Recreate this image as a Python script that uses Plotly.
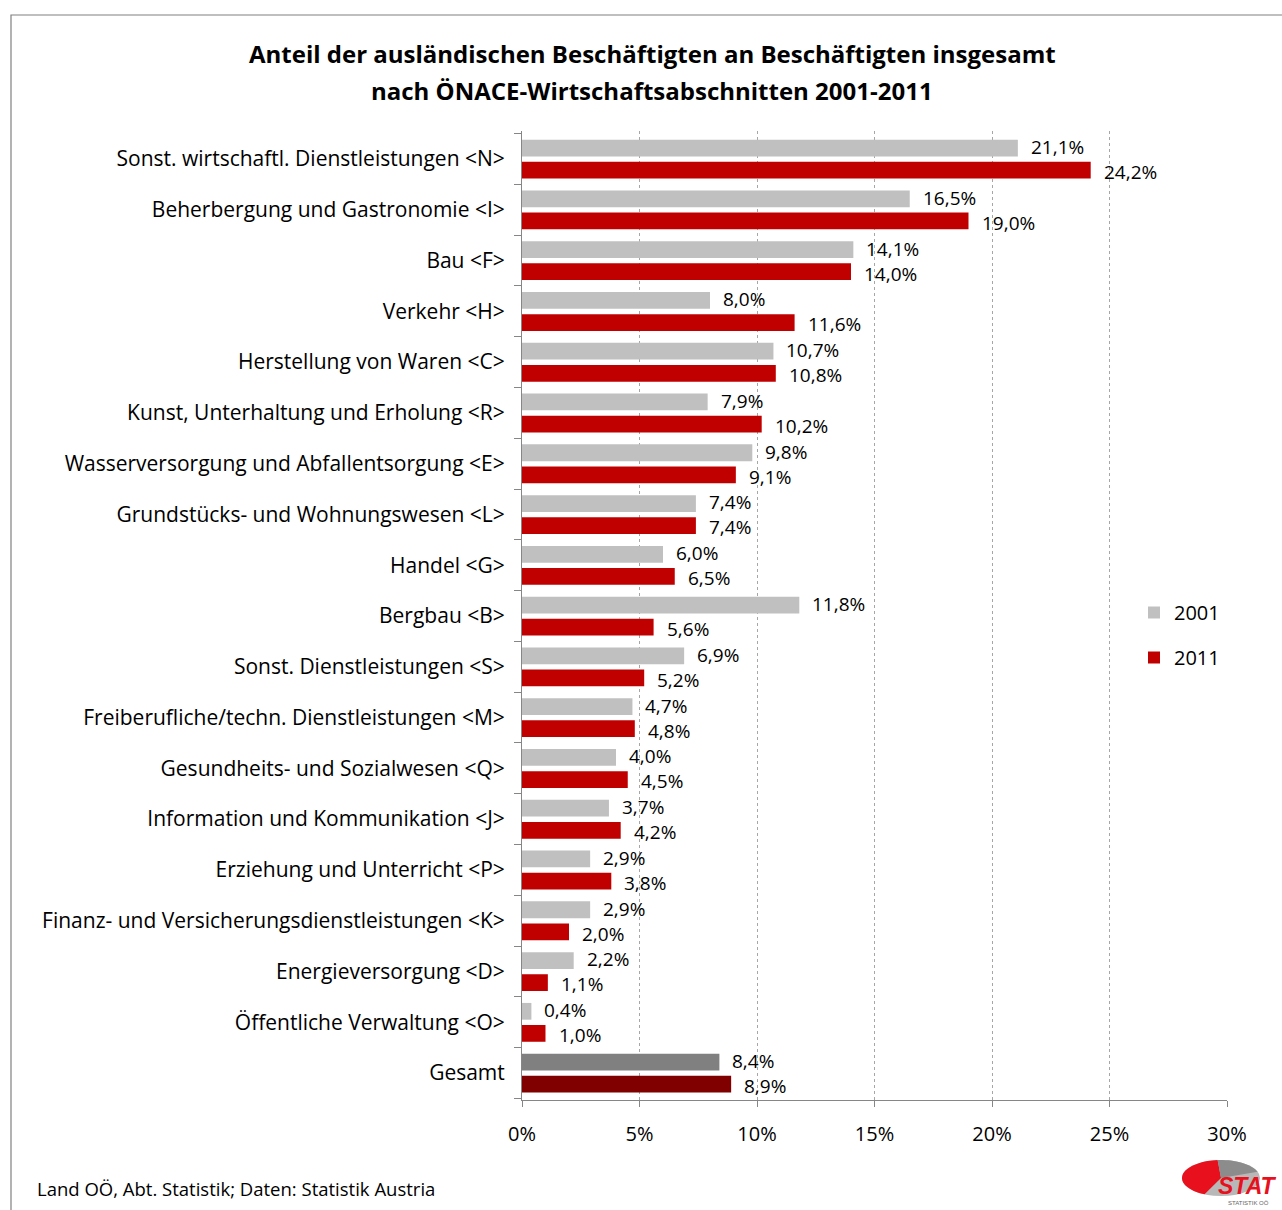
import numpy as np
import plotly.graph_objects as go

# Economic sections (ÖNACE), top to bottom
categories = [
    "Sonst. wirtschaftl. Dienstleistungen <N>",
    "Beherbergung und Gastronomie <I>",
    "Bau <F>",
    "Verkehr <H>",
    "Herstellung von Waren <C>",
    "Kunst, Unterhaltung und Erholung <R>",
    "Wasserversorgung und Abfallentsorgung <E>",
    "Grundstücks- und Wohnungswesen <L>",
    "Handel <G>",
    "Bergbau <B>",
    "Sonst. Dienstleistungen <S>",
    "Freiberufliche/techn. Dienstleistungen <M>",
    "Gesundheits- und Sozialwesen <Q>",
    "Information und Kommunikation <J>",
    "Erziehung und Unterricht <P>",
    "Finanz- und Versicherungsdienstleistungen <K>",
    "Energieversorgung <D>",
    "Öffentliche Verwaltung <O>",
    "Gesamt",
]

# Share of foreign employees in %
share_2001 = [21.1, 16.5, 14.1, 8.0, 10.7, 7.9, 9.8, 7.4, 6.0, 11.8,
              6.9, 4.7, 4.0, 3.7, 2.9, 2.9, 2.2, 0.4, 8.4]
share_2011 = [24.2, 19.0, 14.0, 11.6, 10.8, 10.2, 9.1, 7.4, 6.5, 5.6,
              5.2, 4.8, 4.5, 4.2, 3.8, 2.0, 1.1, 1.0, 8.9]

x_ticks = [0, 5, 10, 15, 20, 25, 30]

FONT = "Open Sans"
W, H = 1282, 1210
L, R, T, B = 522, 1227, 131, 1100   # plot area in px


def px_x(x):
    return (x - L) / (R - L)


def px_y(y):
    return (B - y) / (B - T)


def pct(v):
    return f"{v:.1f}".replace(".", ",") + "%"


def esc(s):
    # section codes like <I>, <B>, <S> must not be read as markup
    return s.replace("<", "&lt;").replace(">", "&gt;")


gray = ["#c0c0c0"] * (len(categories) - 1) + ["#808080"]
red = ["#c00000"] * (len(categories) - 1) + ["#800000"]

# bar thickness and placement within each category slot (category units)
BAR_W = 0.33
fig = go.Figure()
fig.add_trace(go.Bar(
    y=categories, x=share_2001, orientation="h", name="2001",
    width=BAR_W, offset=-0.38,
    marker=dict(color=gray, line=dict(width=0)), legendgroup="a",
))
fig.add_trace(go.Bar(
    y=categories, x=share_2011, orientation="h", name="2011",
    width=BAR_W, offset=0.055,
    marker=dict(color=red, line=dict(width=0)), legendgroup="b",
))

label_font = dict(family=FONT, size=19, color="#000")
annotations = []
for cat, v in zip(categories, share_2001):
    annotations.append(dict(x=v, y=cat, xref="x", yref="y", text=pct(v),
                            showarrow=False, xanchor="left", yanchor="middle",
                            xshift=11, yshift=12, font=label_font))
for cat, v in zip(categories, share_2011):
    annotations.append(dict(x=v, y=cat, xref="x", yref="y", text=pct(v),
                            showarrow=False, xanchor="left", yanchor="middle",
                            xshift=11, yshift=-13, font=label_font))

# Title (two lines)
title_font = dict(family=FONT, size=24, color="#000")
for txt, ypx in [("Anteil der ausländischen Beschäftigten an Beschäftigten insgesamt", 54),
                 ("nach ÖNACE-Wirtschaftsabschnitten 2001-2011", 90)]:
    annotations.append(dict(
        x=px_x(652), y=px_y(ypx), xref="paper", yref="paper", showarrow=False,
        xanchor="center", yanchor="middle", text=f"<b>{txt}</b>", font=title_font,
    ))
# Source line
annotations.append(dict(
    x=px_x(35), y=px_y(1188), xref="paper", yref="paper", showarrow=False,
    xanchor="left", yanchor="middle",
    text="Land OÖ, Abt. Statistik; Daten: Statistik Austria",
    font=dict(family=FONT, size=18.5, color="#000"),
))
# Logo lettering
annotations.append(dict(
    x=px_x(1247), y=px_y(1186), xref="paper", yref="paper", showarrow=False,
    xanchor="center", yanchor="middle", text="<b><i>STAT</i></b>",
    font=dict(family="Liberation Sans", size=23, color="#e8101c"),
))
annotations.append(dict(
    x=px_x(1248), y=px_y(1203), xref="paper", yref="paper", showarrow=False,
    xanchor="center", yanchor="middle", text="STATISTIK OÖ",
    font=dict(family="Liberation Sans", size=6, color="#666"),
))

shapes = []
# Outer frame
shapes.append(dict(type="rect", xref="paper", yref="paper",
                   x0=px_x(11), x1=px_x(1300), y0=px_y(15), y1=px_y(1230),
                   line=dict(color="#808080", width=1.2), fillcolor="rgba(0,0,0,0)", layer="below"))

# Logo ellipse with red sector
cx, cy, rx, ry = 1221, 1178, 39, 18
shapes.append(dict(type="circle", xref="paper", yref="paper",
                   x0=px_x(cx - rx), x1=px_x(cx + rx), y0=px_y(cy + ry), y1=px_y(cy - ry),
                   fillcolor="#b8b8b8", line=dict(width=0)))
ang = np.radians(np.linspace(95, 245, 40))
pts = [(cx, cy)] + [(cx + rx * np.cos(a), cy - ry * np.sin(a)) for a in ang]
path = "M " + " L ".join(f"{px_x(x):.5f},{px_y(y):.5f}" for x, y in pts) + " Z"
shapes.append(dict(type="path", xref="paper", yref="paper", path=path,
                   fillcolor="#e8101c", line=dict(width=0)))
ang2 = np.radians(np.linspace(20, 95, 20))
pts2 = [(cx, cy)] + [(cx + rx * np.cos(a), cy - ry * np.sin(a)) for a in ang2]
path2 = "M " + " L ".join(f"{px_x(x):.5f},{px_y(y):.5f}" for x, y in pts2) + " Z"
shapes.append(dict(type="path", xref="paper", yref="paper", path=path2,
                   fillcolor="#8c8c8c", line=dict(width=0)))

fig.update_layout(
    width=W, height=H,
    margin=dict(l=L, r=W - R, t=T, b=H - B, pad=0),
    paper_bgcolor="white", plot_bgcolor="white",
    barmode="overlay",
    font=dict(family=FONT, size=20, color="#000"),
    showlegend=True,
    legend=dict(x=px_x(1134), y=px_y(593), xanchor="left", yanchor="top",
                font=dict(family=FONT, size=20, color="#000"),
                tracegroupgap=16, bgcolor="rgba(0,0,0,0)", itemwidth=30),
    xaxis=dict(range=[0, 30], tickvals=x_ticks,
               ticktext=[f"{t}%" for t in x_ticks],
               showgrid=True, gridcolor="#a6a6a6", griddash="3px,3px", gridwidth=1,
               showline=True, linecolor="#868686", linewidth=1,
               ticks="outside", ticklen=6, tickcolor="#868686",
               ticklabelstandoff=10,
               tickfont=dict(family=FONT, size=20, color="#000"),
               zeroline=False, fixedrange=True),
    yaxis=dict(autorange="reversed", type="category",
               tickmode="array", tickvals=categories,
               ticktext=[esc(c) for c in categories],
               showline=True, linecolor="#868686", linewidth=1,
               ticks="outside", ticklen=7, tickcolor="#868686",
               tickson="boundaries", ticklabelstandoff=12,
               tickfont=dict(family=FONT, size=21, color="#000"),
               showgrid=False, fixedrange=True),
    annotations=annotations,
    shapes=shapes,
)

fig.write_html("out.html")
